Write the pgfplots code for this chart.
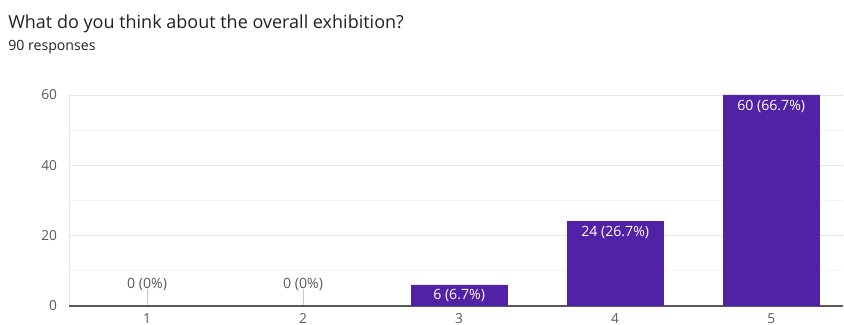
\documentclass[border=0pt]{standalone}
\usepackage{pgfplots}
\pgfplotsset{compat=1.18}
\usepackage{pgfplotstable}
\usepackage{fontspec}
\setmainfont{Open Sans}
\definecolor{barpurple}{RGB}{81,33,166}
\definecolor{titlecol}{RGB}{32,33,36}
\definecolor{tickcol}{RGB}{90,90,90}
\pgfplotstableread{
x y lab
3 6 {6 (6.7\%)}
4 24 {24 (26.7\%)}
5 60 {60 (66.7\%)}
}\bars
\pgfplotstableread{
x y lab
1 0 {0 (0\%)}
2 0 {0 (0\%)}
}\zeros
\begin{document}
\begin{tikzpicture}
\begin{axis}[
  at={(51.75pt,14.25pt)}, anchor=south west,
  scale only axis, width=580.5pt, height=158.25pt,
  xmin=0.5, xmax=5.46, ymin=0, ymax=60,
  ybar, bar width=0.615,
  xtick={1,2,3,4,5}, ytick={0,20,40,60},
  minor ytick={10,30,50},
  ymajorgrids, yminorgrids,
  major grid style={draw=black!10, line width=0.6pt},
  minor grid style={draw=black!5, line width=0.6pt},
  axis line style={draw=none},
  xtick pos=bottom, ytick pos=left,
  tick align=inside, xtick align=inside,
  major x tick style={draw=black!22, line width=0.7pt},
  major tick length=13pt,
  ytick style={draw=none},
  minor tick length=0pt,
  extra y ticks={0}, extra y tick labels={},
  extra y tick style={ymajorgrids, major grid style={draw=black!65, line width=0.9pt}},
  extra x ticks={0.5}, extra x tick labels={},
  extra x tick style={xmajorgrids, major tick length=0pt, major grid style={draw=black!10, line width=0.6pt}},
  /pgf/number format/assume math mode=true,
  tick label style={font=\fontsize{10.3}{12}\selectfont, text=tickcol},
  yticklabel style={xshift=-5.5pt},
  xticklabel style={anchor=base, yshift=-13pt},
  point meta=explicit symbolic,
]
\addplot[bar shift=0pt, fill=barpurple, draw=barpurple,
  nodes near coords,
  every node near coord/.style={anchor=center, yshift=-8.3pt, text=white, font=\fontsize{10.6}{12}\selectfont}]
  table[x=x, y=y, meta=lab] {\bars};
\addplot[bar shift=0pt, draw=none, fill=none,
  nodes near coords,
  every node near coord/.style={anchor=center, yshift=16pt, text=tickcol, font=\fontsize{10.6}{12}\selectfont}]
  table[x=x, y=y, meta=lab] {\zeros};
\end{axis}
\node[anchor=base west, text=titlecol, font=\fontsize{13.5}{16}\selectfont, inner sep=0pt] at (6pt,222pt) {What do you think about the overall exhibition?};
\node[anchor=base west, text=titlecol, font=\fontsize{10.6}{12}\selectfont, inner sep=0pt] at (6pt,205.5pt) {90 responses};
\pgfresetboundingbox
\path[use as bounding box] (0,0) rectangle (633pt,243.75pt);
\end{tikzpicture}
\end{document}
